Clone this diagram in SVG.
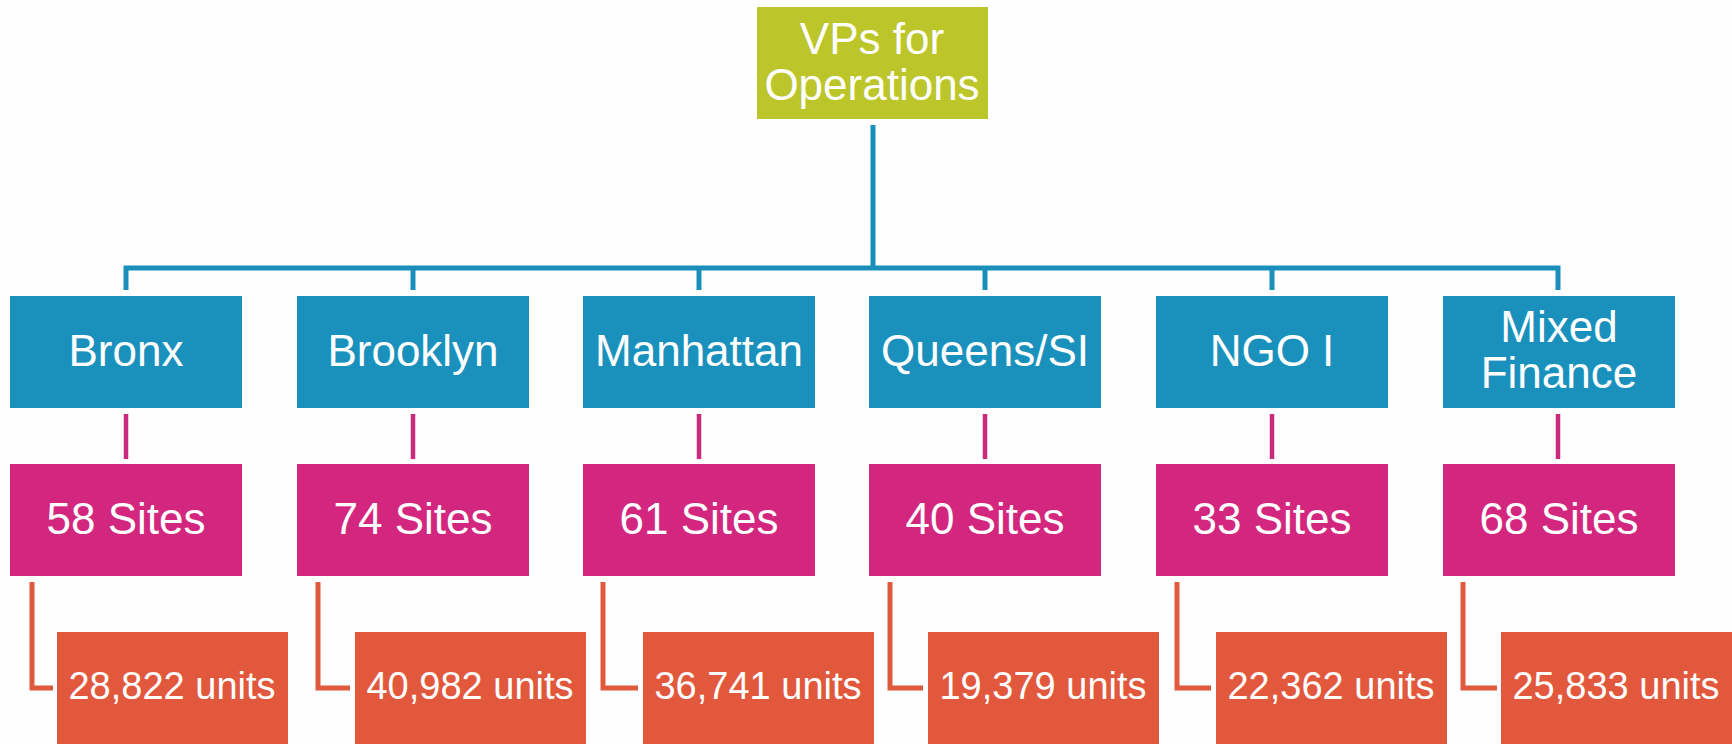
<svg xmlns="http://www.w3.org/2000/svg" width="1732" height="744" viewBox="0 0 1732 744">
<style>
text{font-family:"Liberation Sans",Arial,sans-serif;fill:#ffffff;text-anchor:middle}
.t{font-size:44px}
.b{font-size:44px}
.u{font-size:38px}
.top{fill:#bcc52a}
.blue{fill:#1a91bd}
.mag{fill:#d3277f}
.org{fill:#e2583d}
.lb{stroke:#1a8fbb;stroke-width:5;fill:none}
.lm{stroke:#c92a7b;stroke-width:4.5;fill:none}
.lo{stroke:#df5a3c;stroke-width:5;fill:none}
</style>
<rect width="1732" height="744" fill="#fefefe"/>
<g id="connectors">
<path class="lb" d="M873 125V268M126 290V268H1558V290M413 268V290M699 268V290M985 268V290M1272 268V290"/>
<path class="lm" d="M126 414V459M413 414V459M699 414V459M985 414V459M1272 414V459M1558 414V459"/>
<path class="lo" d="M32 582V688H53M318 582V688H350M603 582V688H638M890 582V688H923M1177 582V688H1211M1463 582V688H1497"/>
</g>
<g id="vp">
<rect class="top" x="757" y="7" width="231" height="112"/>
<text class="t" x="872" y="54">VPs for</text>
<text class="t" x="872" y="100">Operations</text>
</g>
<g id="bronx"><rect class="blue" x="10" y="296" width="232" height="112"/><text class="b" x="126" y="366">Bronx</text></g>
<g id="brooklyn"><rect class="blue" x="297" y="296" width="232" height="112"/><text class="b" x="413" y="366">Brooklyn</text></g>
<g id="manhattan"><rect class="blue" x="583" y="296" width="232" height="112"/><text class="b" x="699" y="366">Manhattan</text></g>
<g id="queens"><rect class="blue" x="869" y="296" width="232" height="112"/><text class="b" x="985" y="366">Queens/SI</text></g>
<g id="ngo"><rect class="blue" x="1156" y="296" width="232" height="112"/><text class="b" x="1272" y="366">NGO I</text></g>
<g id="mixed"><rect class="blue" x="1443" y="296" width="232" height="112"/><text class="b" x="1559" y="342">Mixed</text><text class="b" x="1559" y="388">Finance</text></g>
<g id="sites-bronx"><rect class="mag" x="10" y="464" width="232" height="112"/><text class="b" x="126" y="534">58 Sites</text></g>
<g id="sites-brooklyn"><rect class="mag" x="297" y="464" width="232" height="112"/><text class="b" x="413" y="534">74 Sites</text></g>
<g id="sites-manhattan"><rect class="mag" x="583" y="464" width="232" height="112"/><text class="b" x="699" y="534">61 Sites</text></g>
<g id="sites-queens"><rect class="mag" x="869" y="464" width="232" height="112"/><text class="b" x="985" y="534">40 Sites</text></g>
<g id="sites-ngo"><rect class="mag" x="1156" y="464" width="232" height="112"/><text class="b" x="1272" y="534">33 Sites</text></g>
<g id="sites-mixed"><rect class="mag" x="1443" y="464" width="232" height="112"/><text class="b" x="1559" y="534">68 Sites</text></g>
<g id="units-bronx"><rect class="org" x="57" y="632" width="231" height="112"/><text class="u" x="172" y="699">28,822 units</text></g>
<g id="units-brooklyn"><rect class="org" x="355" y="632" width="231" height="112"/><text class="u" x="470" y="699">40,982 units</text></g>
<g id="units-manhattan"><rect class="org" x="643" y="632" width="231" height="112"/><text class="u" x="758" y="699">36,741 units</text></g>
<g id="units-queens"><rect class="org" x="928" y="632" width="231" height="112"/><text class="u" x="1043" y="699">19,379 units</text></g>
<g id="units-ngo"><rect class="org" x="1216" y="632" width="231" height="112"/><text class="u" x="1331" y="699">22,362 units</text></g>
<g id="units-mixed"><rect class="org" x="1501" y="632" width="231" height="112"/><text class="u" x="1616" y="699">25,833 units</text></g>
</svg>
